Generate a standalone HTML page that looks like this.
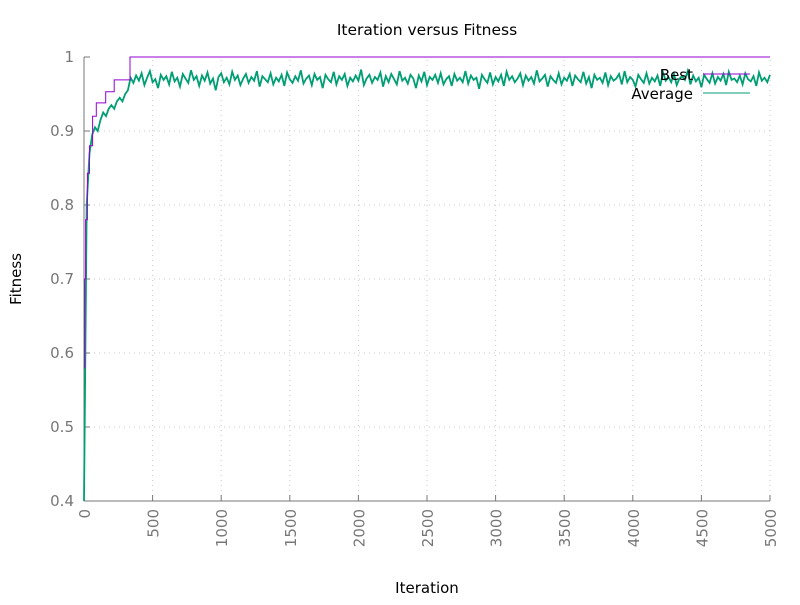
<!DOCTYPE html>
<html><head><meta charset="utf-8"><style>
body{margin:0;background:#fff}
svg{font-family:"DejaVu Sans","Liberation Sans",sans-serif}
</style></head><body>
<svg id="chart" width="800" height="600">
<text x="427" y="35" font-size="15.5" text-anchor="middle">Iteration versus Fitness</text>
<text x="427" y="593" font-size="15" text-anchor="middle">Iteration</text>
<text transform="translate(21,279) rotate(-90)" font-size="15" text-anchor="middle">Fitness</text>
<g id="grid"></g><g id="axes"></g><g id="series"></g>
<g>
<text x="693" y="80" font-size="15" text-anchor="end">Best</text>
<line x1="703" y1="74" x2="750" y2="74" stroke="#9400d3" stroke-width="1"/>
<text x="693" y="99" font-size="15" text-anchor="end">Average</text>
<line x1="703" y1="93" x2="750" y2="93" stroke="#009e73" stroke-width="1"/>
</g>
</svg>
<script>
const xTicks=[0,500,1000,1500,2000,2500,3000,3500,4000,4500,5000];
const yTicks=[0.4,0.5,0.6,0.7,0.8,0.9,1];
const bestIters=[0,5,12,25,40,63,90,121,158,220,280,335,5000];
const bestVals=[0.58,0.70,0.78,0.843,0.88,0.92,0.938,0.938,0.953,0.969,0.969,1.0,1.0];
const avgStep=20;
const avgVals=[0.40,0.80,0.87,0.895,0.905,0.90,0.915,0.925,0.92,0.93,
0.935,0.93,0.94,0.945,0.94,0.95,0.955,0.972,0.965,0.975,
0.968,0.978,0.962,0.972,0.981,0.966,0.970,0.958,0.976,0.969,
0.974,0.963,0.980,0.967,0.972,0.960,0.977,0.971,0.965,0.982,
0.969,0.974,0.961,0.975,0.968,0.979,0.964,0.971,0.955,0.973,
0.978,0.966,0.972,0.963,0.980,0.969,0.975,0.962,0.971,0.977,
0.965,0.973,0.968,0.981,0.960,0.974,0.970,0.966,0.978,0.963,
0.972,0.967,0.976,0.961,0.979,0.970,0.965,0.974,0.968,0.982,
0.964,0.971,0.975,0.962,0.977,0.969,0.973,0.958,0.976,0.970,
0.966,0.980,0.963,0.974,0.969,0.977,0.961,0.972,0.967,0.975,
0.968,0.983,0.962,0.971,0.976,0.965,0.973,0.969,0.979,0.960,
0.974,0.966,0.977,0.970,0.963,0.981,0.968,0.972,0.964,0.976,
0.971,0.958,0.975,0.967,0.980,0.962,0.973,0.969,0.976,0.965,
0.978,0.963,0.970,0.974,0.961,0.977,0.968,0.972,0.966,0.981,
0.964,0.975,0.969,0.972,0.957,0.976,0.970,0.965,0.979,0.963,
0.973,0.967,0.976,0.961,0.980,0.969,0.974,0.966,0.971,0.978,
0.962,0.975,0.968,0.973,0.964,0.982,0.967,0.971,0.976,0.960,
0.974,0.969,0.965,0.978,0.963,0.972,0.968,0.977,0.961,0.975,
0.970,0.966,0.980,0.964,0.973,0.958,0.976,0.969,0.972,0.965,
0.979,0.962,0.974,0.968,0.971,0.977,0.963,0.981,0.966,0.973,
0.969,0.960,0.976,0.970,0.965,0.978,0.964,0.972,0.967,0.975,
0.961,0.979,0.968,0.973,0.966,0.977,0.962,0.971,0.974,0.969,
0.981,0.963,0.975,0.967,0.972,0.959,0.976,0.970,0.965,0.978,
0.964,0.973,0.968,0.977,0.962,0.980,0.969,0.971,0.966,0.975,
0.963,0.978,0.970,0.967,0.974,0.961,0.979,0.968,0.972,0.966,
0.976];
const NS="http://www.w3.org/2000/svg";
const X0=84,X1=770,Y0=501,Y1=57;
const sx=v=>X0+(v-0)/(5000-0)*(X1-X0);
const sy=v=>Y0-(v-0.4)/(1-0.4)*(Y0-Y1);
function mk(tag,parent,attrs){const e=document.createElementNS(NS,tag);for(const k in attrs)e.setAttribute(k,attrs[k]);parent.appendChild(e);return e;}
const grid=document.getElementById('grid'),axes=document.getElementById('axes'),series=document.getElementById('series');
xTicks.forEach(t=>{
 const x=sx(t);
 if(t>0){const g=mk('line',grid,{x1:x,y1:Y0,x2:x,y2:Y1,stroke:'#c8c8c8','stroke-dasharray':'1,4'});
 
 }
 const tk=mk('line',axes,{x1:x,y1:Y0,x2:x,y2:Y0-6,stroke:'#777'});
 
 
 const l=mk('text',axes,{transform:`translate(${x+6},509) rotate(-90)`,'font-size':15,fill:'#777','text-anchor':'end'});
 l.textContent=t;
 
 
});
yTicks.forEach(t=>{
 const y=sy(t);
 if(t>0.4&&t<1){const g=mk('line',grid,{x1:X0,y1:y,x2:X1,y2:y,stroke:'#c8c8c8','stroke-dasharray':'1,4'});
 
 }
 const tk=mk('line',axes,{x1:X0,y1:y,x2:X0+6,y2:y,stroke:'#777'});
 
 
 const l=mk('text',axes,{x:74,y:y+5,'font-size':15,fill:'#777','text-anchor':'end'});
 l.textContent=(t===1?'1':t.toFixed(1));
 
 
});
const la=mk('line',axes,{x1:X0,y1:Y0,x2:X0,y2:Y1,stroke:'#777'});


const ba=mk('line',axes,{x1:X0,y1:Y0,x2:X1,y2:Y0,stroke:'#777'});


let pa='';avgVals.forEach((v,i)=>{pa+=(i?'L':'M')+sx(i*avgStep).toFixed(1)+','+sy(v).toFixed(1);});
const ap=mk('path',series,{d:pa,fill:'none',stroke:'#009e73','stroke-width':1.8});


let pb='';bestIters.forEach((it,i)=>{const x=sx(it),y=sy(bestVals[i]);
 if(i===0)pb='M'+x+','+y;else pb+='H'+x.toFixed(1)+'V'+y.toFixed(1);});
const bp=mk('path',series,{d:pb,fill:'none',stroke:'#9400d3','stroke-width':1});


</script>
</body></html>
